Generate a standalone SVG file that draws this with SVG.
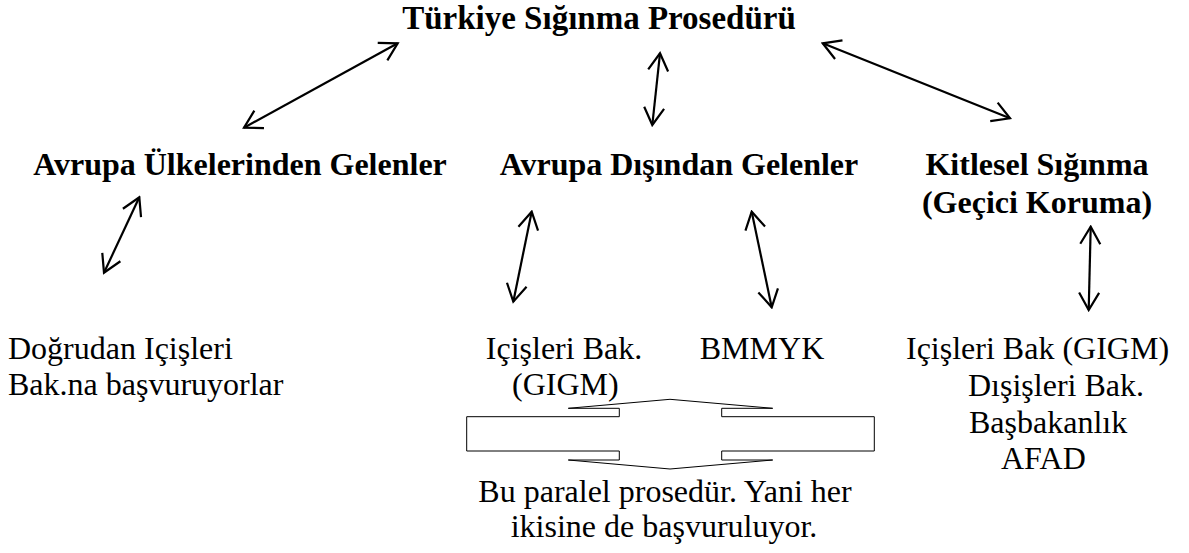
<svg xmlns="http://www.w3.org/2000/svg" width="1189" height="553" viewBox="0 0 1189 553">
<style>
text{font-family:"Liberation Serif","Times New Roman",serif;fill:#000;font-size:32px}
.b{font-weight:bold;font-size:33px}
.h{font-weight:bold;font-size:32px}
.m{text-anchor:middle}
.arr{fill:none;stroke:#000;stroke-width:2.2;marker-start:url(#ah);marker-end:url(#ah)}
.blk{fill:#fff;stroke:#000;stroke-width:1}
</style>
<defs>
<marker id="ah" markerUnits="userSpaceOnUse" viewBox="-20 -12 22 24" refX="0" refY="0" markerWidth="22" markerHeight="24" orient="auto-start-reverse">
<path d="M-17.3,-10 L0,0 L-17.3,10" fill="none" stroke="#000" stroke-width="2.2"/>
</marker>
</defs>
<rect width="1189" height="553" fill="#fff"/>
<g id="connectors">
<line class="arr" x1="244" y1="127.7" x2="397.7" y2="43.3"/>
<line class="arr" x1="822.7" y1="43.3" x2="1010" y2="118.3"/>
<line class="arr" x1="660" y1="53.3" x2="652.3" y2="125"/>
<line class="arr" x1="139.3" y1="197.3" x2="104" y2="272.7"/>
<line class="arr" x1="531.7" y1="211.7" x2="513.3" y2="301.7"/>
<line class="arr" x1="751.7" y1="211.7" x2="771.7" y2="307.3"/>
<line class="arr" x1="1090.7" y1="226.7" x2="1088.7" y2="310"/>
</g>
<g id="title"><text class="b m" x="599" y="29">Türkiye Sığınma Prosedürü</text></g>
<g id="avrupa-ulkeleri"><text class="h m" x="240" y="175">Avrupa Ülkelerinden Gelenler</text></g>
<g id="avrupa-disi"><text class="h m" x="679" y="175">Avrupa Dışından Gelenler</text></g>
<g id="kitlesel"><text class="h m" x="1037" y="175">Kitlesel Sığınma</text><text class="h m" x="1037" y="213">(Geçici Koruma)</text></g>
<g id="dogrudan"><text x="8" y="359">Doğrudan Içişleri</text><text x="8" y="395">Bak.na başvuruyorlar</text></g>
<g id="icisleri"><text class="m" x="564" y="359">Içişleri Bak.</text><text x="512" y="395">(GIGM)</text></g>
<g id="bmmyk"><text class="m" x="762" y="359">BMMYK</text></g>
<g id="kurumlar"><text x="906" y="359">Içişleri Bak (GIGM)</text><text x="968" y="396">Dışişleri Bak.</text><text x="969" y="433">Başbakanlık</text><text x="1001" y="469">AFAD</text></g>
<g id="paralel">
<path class="blk" d="M466.7,416.7 H619.3 V408.3 H568.3 L670,399.3 L772.7,408.3 H721.7 V416.7 H874.3 V451 H721.7 V460 H772.7 L670,469 L568.3,460 H619.3 V451 H466.7 Z"/>
</g>
<g id="not"><text class="m" x="665" y="502">Bu paralel prosedür. Yani her</text><text class="m" x="664" y="537">ikisine de başvuruluyor.</text></g>
</svg>
